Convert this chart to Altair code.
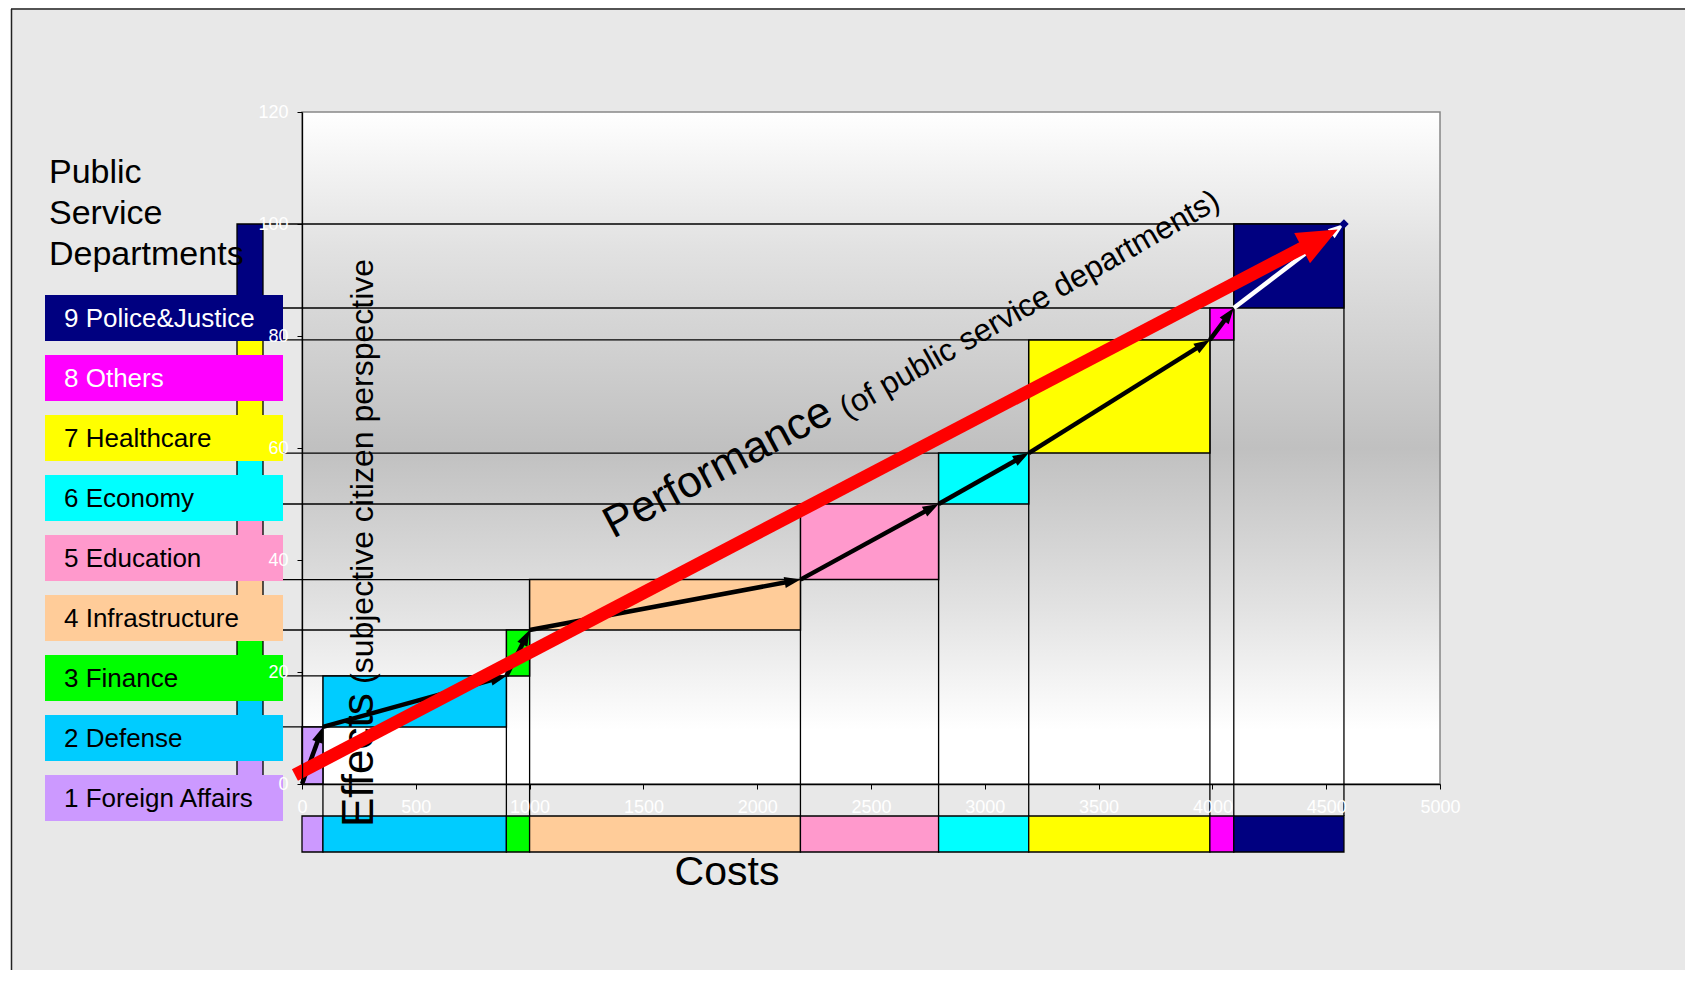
import math
import altair as alt
import pandas as pd

# ---------------- data ----------------
departments = ["1 Foreign Affairs", "2 Defense", "3 Finance", "4 Infrastructure",
               "5 Education", "6 Economy", "7 Healthcare", "8 Others", "9 Police&Justice"]
costs = [92, 806, 102, 1190, 607, 396, 796, 105, 484]
effects = [10.2, 9.1, 8.2, 9.0, 13.5, 9.1, 20.2, 5.7, 15.0]
colors = ["#cc99ff", "#00ccff", "#00ff00", "#ffcc99", "#ff99cc",
          "#00ffff", "#ffff00", "#ff00ff", "#000080"]
label_colors = ["black"] * 7 + ["white", "white"]
perf_start = [-31, 1.6]
perf_end = [4550, 99.0]
x_ticks = list(range(0, 5001, 500))
y_ticks = list(range(0, 121, 20))

# ---------------- layout ----------------
W, H = 1138, 672
X_MAX, Y_MAX = 5000, 120
SX, SY = W / X_MAX, H / Y_MAX
FONT = "Liberation Sans"

c1, e1 = [], []
sc, se = 0.0, 0.0
for c, e in zip(costs, effects):
    sc += c
    se += e
    c1.append(sc)
    e1.append(se)
c0 = [0.0] + c1[:-1]
e0 = [0.0] + e1[:-1]

df = pd.DataFrame({"dept": departments, "c0": c0, "c1": c1, "e0": e0, "e1": e1,
                   "color": colors, "tcolor": label_colors, "idx": list(range(1, 10))})


def arrow_rows(x0, y0, x1, y1, shorten):
    dx, dy = (x1 - x0) * SX, (y1 - y0) * SY
    L = math.hypot(dx, dy)
    return dict(x0=x0, y0=y0, x1=x1, y1=y1,
                xs=x1 - dx / L * shorten / SX, ys=y1 - dy / L * shorten / SY,
                ang=90 - math.degrees(math.atan2(dy, dx)))


seg = pd.DataFrame([arrow_rows(a, b, c, d, 8) for a, b, c, d in zip(c0, e0, c1, e1)])
seg["white"] = [False] * 8 + [True]
red = pd.DataFrame([arrow_rows(perf_start[0], perf_start[1], perf_end[0], perf_end[1], 22)])

xs = alt.Scale(domain=[0, X_MAX], nice=False, zero=False)
ys = alt.Scale(domain=[0, Y_MAX], nice=False, zero=False)
axis_common = dict(labelColor="white", labelFont=FONT, labelFontSize=18, tickColor="black",
                   domainColor="black", domainWidth=1.3, tickSize=5, labelPadding=9,
                   grid=False, title=None, zindex=1, format="d", labelFlush=False,
                   labelOverlap=False, labelBound=False)
XA = alt.Axis(values=x_ticks, **axis_common)
YA = alt.Axis(values=y_ticks, **axis_common)


def X(f):
    return alt.X(f, type="quantitative", scale=xs, axis=XA)


def Y(f):
    return alt.Y(f, type="quantitative", scale=ys, axis=YA)


one = pd.DataFrame({"k": [0]})
base = alt.Chart(df)

layers = []

# page frame
layers.append(alt.Chart(one).mark_rect(color="white").encode(
    x=alt.value(-294), x2=alt.value(-291), y=alt.value(-104), y2=alt.value(H + 220)))
layers.append(alt.Chart(one).mark_rule(color="#222222", strokeWidth=1.5).encode(
    x=alt.value(-290.5), y=alt.value(-103), y2=alt.value(H + 220)))
layers.append(alt.Chart(one).mark_rule(color="#222222", strokeWidth=1.5).encode(
    x=alt.value(-291), x2=alt.value(W + 270), y=alt.value(-103)))

# plot-area gradient background
grad = alt.LinearGradient(
    gradient="linear",
    stops=[alt.GradientStop(color="#ffffff", offset=0),
           alt.GradientStop(color="#e2e2e2", offset=0.2),
           alt.GradientStop(color="#c0c0c0", offset=0.5),
           alt.GradientStop(color="#e4e4e4", offset=0.75),
           alt.GradientStop(color="#ffffff", offset=0.92),
           alt.GradientStop(color="#ffffff", offset=1)],
    x1=0, x2=0, y1=0, y2=1)
layers.append(alt.Chart(one).mark_rect(fill=grad, stroke="#888888", strokeWidth=1.5).encode(
    x=alt.value(0), x2=alt.value(W), y=alt.value(0), y2=alt.value(H)))

# horizontal projection lines
layers.append(base.mark_rule(color="black", strokeWidth=1.3).encode(
    x=X("c1"), x2=alt.value(-39), y=Y("e1")))
# vertical projection lines
layers.append(base.mark_rule(color="black", strokeWidth=1.3).encode(
    x=X("c1"), y=Y("e1"), y2=alt.value(704)))

# boxes
layers.append(base.mark_rect(stroke="black", strokeWidth=1.5).encode(
    x=X("c0"), x2="c1:Q", y=Y("e0"), y2="e1:Q",
    fill=alt.Fill("color:N", scale=None)))

# left stacked bar (effects)
layers.append(base.mark_rect(stroke="black", strokeWidth=1.3).encode(
    x=alt.value(-65), x2=alt.value(-39), y=Y("e0"), y2="e1:Q",
    fill=alt.Fill("color:N", scale=None)))
# bottom stacked bar (costs)
layers.append(base.mark_rect(stroke="black", strokeWidth=1.3).encode(
    x=X("c0"), x2="c1:Q", y=alt.value(704), y2=alt.value(740),
    fill=alt.Fill("color:N", scale=None)))

# legend boxes
for i in range(9):
    top = 183 + (8 - i) * 60
    row = df.iloc[[i]]
    layers.append(alt.Chart(row).mark_rect().encode(
        x=alt.value(-257), x2=alt.value(-19), y=alt.value(top), y2=alt.value(top + 46),
        fill=alt.Fill("color:N", scale=None)))
    layers.append(alt.Chart(row).mark_text(align="left", baseline="middle", font=FONT,
                                           fontSize=26).encode(
        x=alt.value(-238), y=alt.value(top + 24), text="dept:N",
        color=alt.Color("tcolor:N", scale=None)))

# titles / annotations
layers.append(alt.Chart(one).mark_text(
    text=["Public", "Service", "Departments"], lineHeight=41, align="left",
    baseline="alphabetic", font=FONT, fontSize=34, color="black").encode(
    x=alt.value(-253), y=alt.value(71)))
layers.append(alt.Chart(one).mark_text(
    text="Costs", align="center", baseline="alphabetic", font=FONT, fontSize=41,
    color="black").encode(x=alt.value(425), y=alt.value(773)))
layers.append(alt.Chart(one).mark_text(
    text="Effects", align="left", baseline="alphabetic", font=FONT, fontSize=44,
    angle=270, color="black").encode(x=alt.value(71), y=alt.value(715)))
layers.append(alt.Chart(one).mark_text(
    text="(subjective citizen perspective", align="left", baseline="alphabetic", font=FONT,
    fontSize=32, angle=270, color="black").encode(x=alt.value(71), y=alt.value(572)))

# step arrows
ARROW_BLACK = "M0,0L-0.7,2L0.7,2Z"
for is_white, col in [(False, "black"), (True, "white")]:
    sub = alt.Chart(seg).transform_filter(alt.datum.white == is_white)
    layers.append(sub.mark_rule(color=col, strokeWidth=4.5).encode(
        x=X("x0"), x2="xs:Q", y=Y("y0"), y2="ys:Q"))
    layers.append(sub.mark_point(shape=ARROW_BLACK, filled=True, size=256, opacity=1,
                                 strokeWidth=0, color=col).encode(
        x=X("x1"), y=Y("y1"), angle=alt.Angle("ang:Q", scale=None)))

# end point marker
layers.append(base.transform_filter(alt.datum.idx == 9).mark_point(
    shape="diamond", filled=True, size=90, opacity=1, color="#000080").encode(
    x=X("c1"), y=Y("e1")))

# performance arrow (red)
layers.append(alt.Chart(red).mark_rule(color="#ff0000", strokeWidth=13).encode(
    x=X("x0"), x2="xs:Q", y=Y("y0"), y2="ys:Q"))
layers.append(alt.Chart(red).mark_point(shape="M0,0L-0.85,2L0.85,2Z", filled=True,
                                        size=1600, opacity=1, strokeWidth=0,
                                        color="#ff0000").encode(
    x=X("x1"), y=Y("y1"), angle=alt.Angle("ang:Q", scale=None)))

layers.append(alt.Chart(one).mark_text(
    text="Performance", align="left", baseline="alphabetic", font=FONT, fontSize=44,
    angle=332, color="black").encode(x=alt.value(311), y=alt.value(427)))
layers.append(alt.Chart(one).mark_text(
    text="(of public service departments)", align="left", baseline="alphabetic",
    font=FONT, fontSize=31.5, angle=330.5, color="black").encode(
    x=alt.value(545), y=alt.value(307)))

chart = alt.layer(*layers).properties(
    width=W, height=H,
    autosize=alt.AutoSizeParams(type="none"),
    padding={"left": 294, "top": 104, "right": 245, "bottom": 186},
    background="#e8e8e8",
).configure_view(stroke="#888888", strokeWidth=1.3).configure(font=FONT)

chart.save("out.html", embed_options={"renderer": "svg", "actions": False})
